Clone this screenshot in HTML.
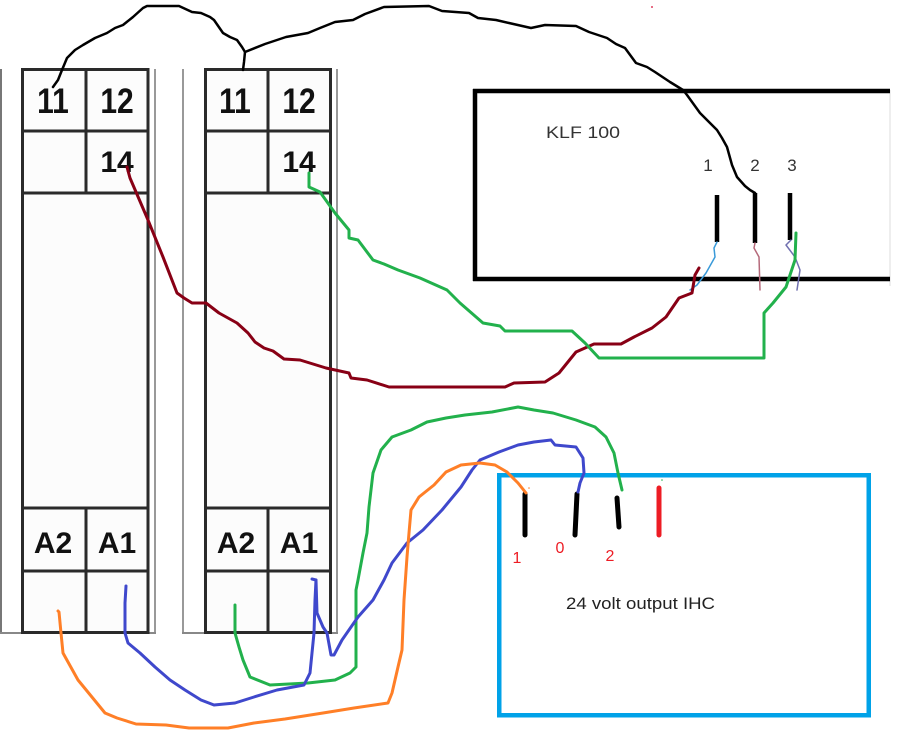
<!DOCTYPE html>
<html>
<head>
<meta charset="utf-8">
<style>
  html,body{margin:0;padding:0;background:#fff;}
  body{width:898px;height:750px;overflow:hidden;}
  svg{display:block;}
  .w{fill:none;stroke-linejoin:round;stroke-linecap:round;}
</style>
</head>
<body>
<svg width="898" height="750" viewBox="0 0 898 750" xmlns="http://www.w3.org/2000/svg">
  <rect x="0" y="0" width="898" height="750" fill="#fff"/>

  <!-- Relay 1 -->
  <g>
    <line x1="1" y1="69" x2="1" y2="634" stroke="#777" stroke-width="2"/>
    <line x1="155" y1="69" x2="155" y2="634" stroke="#999" stroke-width="2"/>
    <line x1="0" y1="633" x2="156" y2="633" stroke="#888" stroke-width="2"/>
    <rect x="22.5" y="69.5" width="125.5" height="563" fill="#fcfcfc" stroke="#2a2a2a" stroke-width="3"/>
    <line x1="22" y1="131" x2="148" y2="131" stroke="#2a2a2a" stroke-width="3"/>
    <line x1="22" y1="193" x2="148" y2="193" stroke="#2a2a2a" stroke-width="3"/>
    <line x1="22" y1="508" x2="148" y2="508" stroke="#2a2a2a" stroke-width="3"/>
    <line x1="22" y1="571" x2="148" y2="571" stroke="#2a2a2a" stroke-width="3"/>
    <line x1="86" y1="69" x2="86" y2="193" stroke="#2a2a2a" stroke-width="3"/>
    <line x1="86" y1="508" x2="86" y2="633" stroke="#2a2a2a" stroke-width="3"/>
  </g>
  <!-- Relay 2 -->
  <g>
    <line x1="183" y1="69" x2="183" y2="634" stroke="#999" stroke-width="2"/>
    <line x1="337" y1="69" x2="337" y2="634" stroke="#999" stroke-width="2"/>
    <line x1="182" y1="633" x2="338" y2="633" stroke="#888" stroke-width="2"/>
    <rect x="205.5" y="69.5" width="125" height="563" fill="#fcfcfc" stroke="#2a2a2a" stroke-width="3"/>
    <line x1="205" y1="131" x2="331" y2="131" stroke="#2a2a2a" stroke-width="3"/>
    <line x1="205" y1="193" x2="331" y2="193" stroke="#2a2a2a" stroke-width="3"/>
    <line x1="205" y1="508" x2="331" y2="508" stroke="#2a2a2a" stroke-width="3"/>
    <line x1="205" y1="571" x2="331" y2="571" stroke="#2a2a2a" stroke-width="3"/>
    <line x1="268" y1="69" x2="268" y2="193" stroke="#2a2a2a" stroke-width="3"/>
    <line x1="268" y1="508" x2="268" y2="633" stroke="#2a2a2a" stroke-width="3"/>
  </g>

  <!-- Relay labels -->
  <g font-family="Liberation Sans, Arial, sans-serif" font-weight="bold" font-size="30" fill="#111" text-anchor="middle">
    <g transform="translate(53,113) scale(1,1.16)"><text x="0" y="0">11</text></g>
    <g transform="translate(117,113) scale(1,1.16)"><text x="0" y="0">12</text></g>
    <g transform="translate(235,113) scale(1,1.16)"><text x="0" y="0">11</text></g>
    <g transform="translate(299,113) scale(1,1.16)"><text x="0" y="0">12</text></g>
    <text x="117" y="172">14</text>
    <text x="299" y="172">14</text>
    <text x="53" y="553">A2</text>
    <text x="117" y="553">A1</text>
    <text x="236" y="553">A2</text>
    <text x="299" y="553">A1</text>
  </g>

  <!-- KLF 100 box -->
  <line x1="890" y1="90" x2="890" y2="286" stroke="#ddd" stroke-width="1"/>
  <line x1="473" y1="91" x2="890" y2="91" stroke="#000" stroke-width="4.5"/>
  <line x1="473" y1="279" x2="890" y2="279" stroke="#000" stroke-width="4.5"/>
  <line x1="475" y1="89" x2="475" y2="281" stroke="#000" stroke-width="4.5"/>
  <text x="546" y="138" font-family="Liberation Sans, Arial, sans-serif" font-size="17" fill="#333" textLength="74" lengthAdjust="spacingAndGlyphs">KLF 100</text>
  <g font-family="Liberation Sans, Arial, sans-serif" font-size="17" fill="#333" text-anchor="middle">
    <text x="708" y="171">1</text>
    <text x="755" y="171">2</text>
    <text x="792" y="171">3</text>
  </g>
  <line x1="717" y1="195" x2="717" y2="242" stroke="#000" stroke-width="4.5"/>
  <line x1="755" y1="193" x2="755" y2="243" stroke="#000" stroke-width="4.5"/>
  <line x1="790" y1="193" x2="790" y2="240" stroke="#000" stroke-width="4.5"/>

  <!-- IHC box -->
  <rect x="499.25" y="475.25" width="369.5" height="240" fill="none" stroke="#00a2e8" stroke-width="4.5"/>
  <line x1="525" y1="494" x2="525" y2="535" stroke="#000" stroke-width="5" stroke-linecap="round"/>
  <line x1="577" y1="494" x2="575" y2="535" stroke="#000" stroke-width="5" stroke-linecap="round"/>
  <line x1="617" y1="498" x2="619" y2="527" stroke="#000" stroke-width="5" stroke-linecap="round"/>
  <line x1="659" y1="488" x2="659" y2="535" stroke="#ed1c24" stroke-width="5" stroke-linecap="round"/>
  <g font-family="Liberation Sans, Arial, sans-serif" font-size="16" fill="#ed1c24" text-anchor="middle">
    <text x="517" y="563">1</text>
    <text x="560" y="553">0</text>
    <text x="610" y="561">2</text>
  </g>
  <text x="566" y="609" font-family="Liberation Sans, Arial, sans-serif" font-size="17" fill="#222" textLength="149" lengthAdjust="spacingAndGlyphs">24 volt output IHC</text>

  <!-- Black wire -->
  <path class="w" stroke="#000" stroke-width="2.5" d="M53,87 L58,80 L62,70 L67,58 L75,50 L83,45 L95,38 L107,33 L115,28 L123,25 L133,17 L143,8 L147,6 L179,6 L192,12 L201,13 L210,17 L214,20 L223,33 L230,37 L237,40 L242,47 L245,52 L244,62 L243,70"/>
  <path class="w" stroke="#000" stroke-width="2.5" d="M245,52 L265,44 L286,37 L308,33 L320,28 L335,22 L353,20 L365,14 L384,7 L429,6 L442,11 L469,13 L478,18 L496,20 L509,23 L531,28 L545,25 L576,26 L589,32 L607,38 L616,44 L625,48 L636,63 L647,67 L655,72 L670,82 L683,90 L687,95 L700,113 L717,130 L722,138 L727,147 L732,165 L737,177 L745,186 L750,190 L755,193"/>

  <!-- small KLF wires -->
  <path class="w" stroke="#3a9ad9" stroke-width="1.5" d="M717,242 L714,248 L715,257 L706,273 L697,285 L690,290"/>
  <path class="w" stroke="#b5697a" stroke-width="1.5" d="M755,243 L754,248 L759,257 L760,290"/>
  <path class="w" stroke="#7070b0" stroke-width="1.5" d="M791,240 L786,245 L795,257 L800,270 L797,290"/>

  <!-- Dark red wire -->
  <path class="w" stroke="#880015" stroke-width="3" d="M127,167 L130,178 L148,220 L163,257 L177,293 L184,298 L192,303 L206,303 L219,313 L237,323 L248,333 L255,342 L264,348 L273,351 L284,359 L300,360 L326,368 L349,373 L351,378 L367,380 L389,387 L505,387 L514,383 L545,382 L559,373 L576,352 L594,344 L621,344 L634,337 L652,328 L666,317 L679,298 L692,293 L695,275 L699,268"/>

  <!-- Green upper wire -->
  <path class="w" stroke="#22b14c" stroke-width="3" d="M309,173 L309,187 L320,192 L335,213 L349,230 L349,238 L358,240 L373,260 L384,264 L398,270 L420,278 L447,290 L460,303 L483,323 L500,326 L505,331 L572,331 L585,343 L599,358 L764,358 L764,313 L773,303 L786,287 L795,260 L796,233"/>

  <!-- Green lower wire -->
  <path class="w" stroke="#22b14c" stroke-width="3" d="M235,605 L235,633 L239,647 L243,660 L250,677 L270,685 L308,683 L335,680 L350,673 L356,667 L356,590 L358,580 L363,553 L367,533 L369,507 L373,473 L381,450 L392,437 L411,430 L427,422 L446,418 L465,415 L492,412 L518,407 L534,410 L553,413 L576,420 L595,427 L606,437 L614,453 L618,473 L622,490"/>

  <!-- Blue wire -->
  <path class="w" stroke="#3f48cc" stroke-width="3" d="M126,586 L125,603 L125,633 L128,643 L140,653 L155,667 L170,680 L185,690 L201,700 L214,705 L235,703 L254,697 L277,690 L304,685 L310,673 L314,633 L315,600 L316,580 L312,579"/>
  <path class="w" stroke="#3f48cc" stroke-width="3" d="M316,580 L317,613 L323,627 L327,633 L331,655 L334,655 L342,640 L358,617 L373,600 L384,580 L392,563 L407,543 L423,530 L442,510 L461,487 L472,470 L480,460 L499,452 L518,445 L534,442 L551,440 L555,445 L576,447 L583,458 L584,473 L580,483 L578,492"/>

  <!-- Orange wire -->
  <path class="w" stroke="#ff7f27" stroke-width="3" d="M58,611 L59,612 L61,633 L63,653 L78,680 L105,713 L117,718 L136,724 L166,725 L189,728 L228,728 L254,723 L285,719 L323,713 L354,708 L388,703 L392,693 L398,667 L402,650 L404,600 L407,557 L409,533 L411,510 L419,497 L434,485 L446,472 L461,465 L480,463 L495,465 L507,472 L518,483 L526,493"/>

  <!-- tiny dots -->
  <circle cx="652" cy="7" r="1" fill="#e04060"/>
  <circle cx="529" cy="488" r="0.8" fill="#ff7f27"/>
  <circle cx="662" cy="480" r="0.8" fill="#22b14c"/>
</svg>
</body>
</html>
